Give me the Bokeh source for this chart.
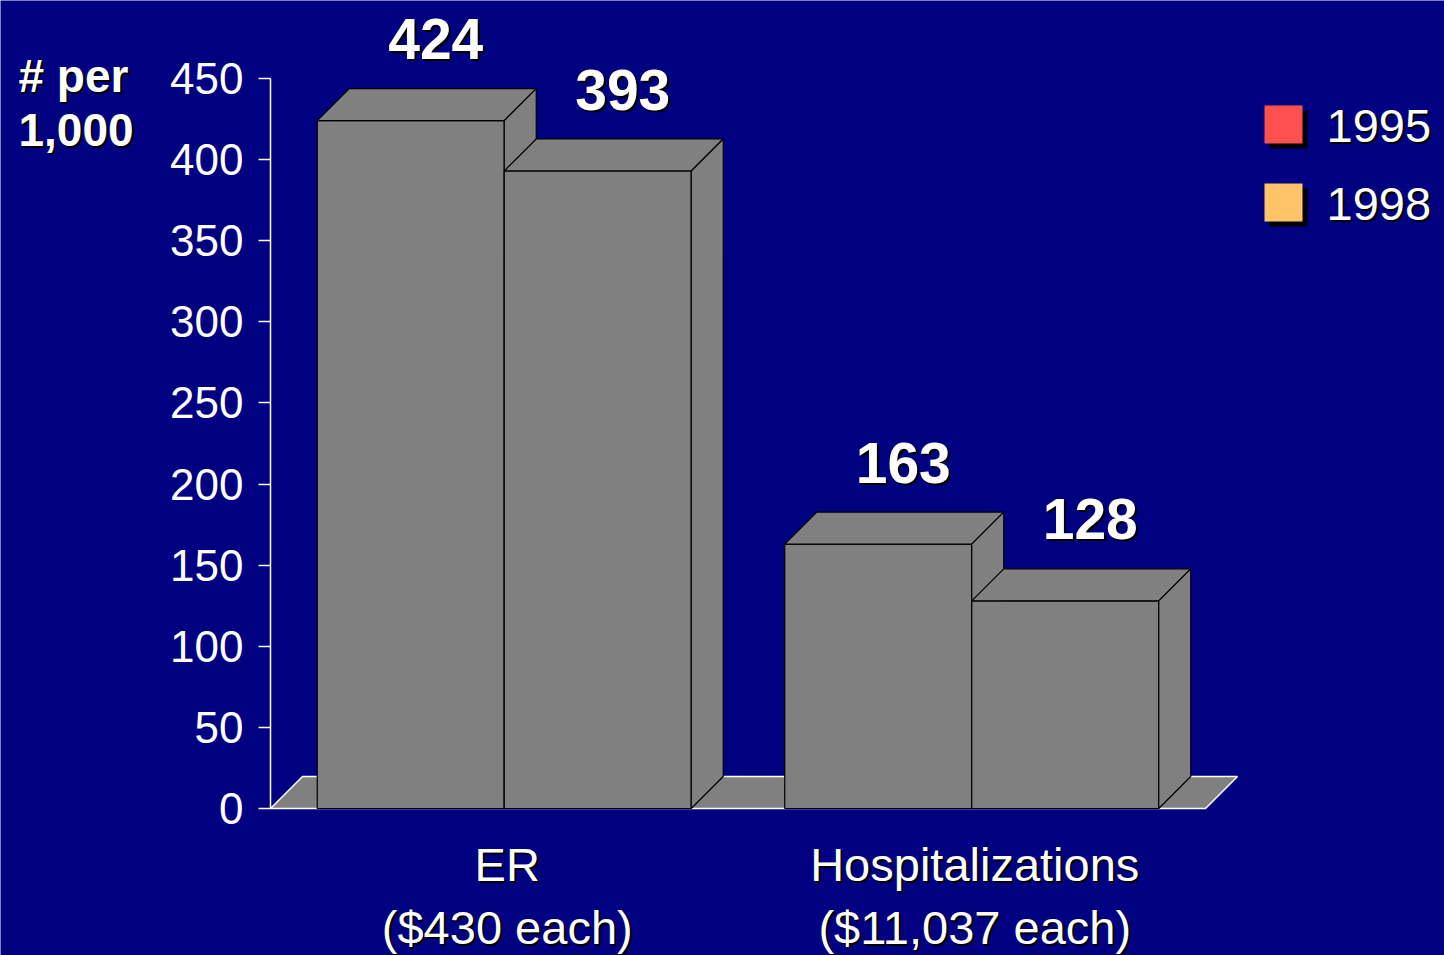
from bokeh.plotting import figure
from bokeh.models import Range1d, FixedTicker, ColumnDataSource
from bokeh.core.properties import value
from bokeh.embed import file_html
from bokeh.resources import INLINE

# ---------------- data ----------------
categories = ["ER", "Hospitalizations"]
category_costs = ["($430 each)", "($11,037 each)"]
series_names = ["1995", "1998"]
values_1995 = [424, 163]
values_1998 = [393, 128]
series_colors = ["#ff5050", "#ffc36a"]
y_ticks = [0, 50, 100, 150, 200, 250, 300, 350, 400, 450]
y_axis_title = ["# per", "1,000"]

# ---------------- style / layout ----------------
NAVY = "#000080"
GRAY = "#808080"
FONT = "Liberation Sans"
W, H = 1444, 955
AXIS_PX = 270         # pixel column of the y axis (value x = 0)
Y0_PX = 808           # pixel row of value 0
PX_PER_Y = 730 / 450  # pixels per value unit
PX_PER_CAT = 467.5    # pixels per category slot
DEPTH_PX = 32         # 3D depth offset in px
BASE_FIX = 0.375      # baseline correction (fraction of font size)


def px_x(px):
    return (px - AXIS_PX) / PX_PER_CAT


def px_y(py):
    return (Y0_PX - py) / PX_PER_Y


dx = DEPTH_PX / PX_PER_CAT
dy = DEPTH_PX / PX_PER_Y

p = figure(width=W, height=H, x_range=Range1d(px_x(0), px_x(W)), y_range=Range1d(px_y(H), px_y(0)),
           output_backend="svg", toolbar_location=None, x_axis_location=None,
           min_border_left=0, min_border_right=0, min_border_top=0, min_border_bottom=0,
           background_fill_color=NAVY, border_fill_color=NAVY, outline_line_color=None)
p.grid.visible = False

ax = p.yaxis[0]
ax.fixed_location = 0
ax.ticker = FixedTicker(ticks=y_ticks)
ax.bounds = (y_ticks[0], y_ticks[-1])
ax.axis_line_color = "white"
ax.axis_line_width = 1.5
ax.major_tick_line_color = "white"
ax.major_tick_line_width = 1.5
ax.major_tick_out = 12
ax.major_tick_in = 0
ax.minor_tick_line_color = None
ax.major_label_standoff = 15
ax.major_label_text_color = "white"
ax.major_label_text_font = FONT
ax.major_label_text_font_size = "44px"

# floor
n_cat = len(categories)
p.patch([0, n_cat, n_cat + dx, dx], [0, 0, dy, dy], fill_color=GRAY,
        line_color="white", line_width=1.5)

# 3D bars (front, top, side per bar, in drawing order)
series_values = [values_1995, values_1998]
xs, ys = [], []
lab_x, lab_y, lab_t = [], [], []
for i in range(n_cat):
    for j, vals in enumerate(series_values):
        v = vals[i]
        x0 = i + 0.1 + 0.4 * j
        x1 = x0 + 0.4
        xs += [[x0, x1, x1, x0], [x0, x1, x1 + dx, x0 + dx], [x1, x1 + dx, x1 + dx, x1]]
        ys += [[0, 0, v, v], [v, v, v + dy, v + dy], [0, dy, v + dy, v]]
        lab_x.append((x0 + x1) / 2)
        lab_y.append(v)
        lab_t.append(str(v))
p.patches(xs, ys, fill_color=GRAY, line_color="black", line_width=1.2)


def shadow_text(x, y, text, size, bold=False, align="center", xo=0, yo=0, sh=2):
    fs = "%dpx" % size
    for col, off in (("black", sh), ("white", 0)):
        p.text(x=x, y=y, text=text, x_offset=xo + off, y_offset=yo + off - BASE_FIX * size,
               text_align=align, text_baseline="alphabetic", text_color=col,
               text_font=value(FONT), text_font_style="bold" if bold else "normal",
               text_font_size=fs)


# value labels
shadow_text(lab_x, lab_y, lab_t, 57, bold=True, xo=25, yo=-60)

# category labels (two lines)
cat_x = [i + 0.5 for i in range(n_cat)]
shadow_text(cat_x, [0] * n_cat, categories, 47, xo=3, yo=74)
shadow_text(cat_x, [0] * n_cat, category_costs, 47, xo=3, yo=137)

# legend (manual, with shadows)
leg_left, leg_top, sw, gap = 1264, 105, 38, 78
for k, (name, colr) in enumerate(zip(series_names, series_colors)):
    t = leg_top + k * gap
    p.quad(left=[px_x(leg_left + 5)], right=[px_x(leg_left + sw + 5)],
           top=[px_y(t + 5)], bottom=[px_y(t + sw + 5)], fill_color="black", line_color=None)
    p.quad(left=[px_x(leg_left)], right=[px_x(leg_left + sw)],
           top=[px_y(t)], bottom=[px_y(t + sw)], fill_color=colr, line_color=None)
    shadow_text([px_x(1326)], [px_y(t + sw)], [name], 47, align="left")

# y axis title (horizontal, top-left)
for k, line in enumerate(y_axis_title):
    shadow_text([px_x(18)], [px_y(93 + k * 54)], [line], 46, bold=True, align="left")

open("out.html", "w").write(file_html(p, INLINE))
